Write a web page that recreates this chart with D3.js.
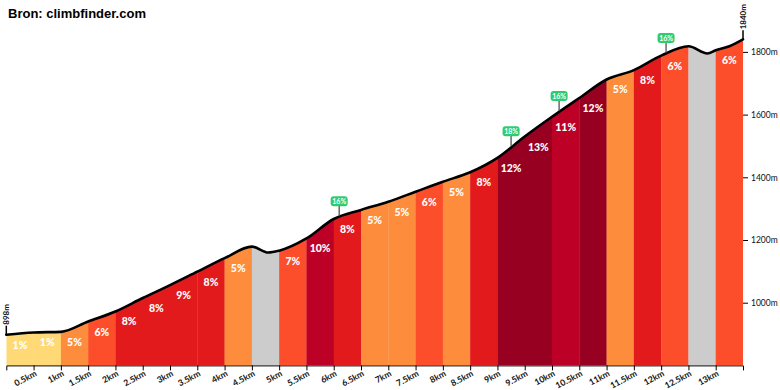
<!DOCTYPE html>
<html><head><meta charset="utf-8">
<script src="https://cdn.jsdelivr.net/npm/d3@7"></script>
<style>
body{margin:0;background:#fff;}
svg{display:block;}
</style></head><body>
<svg id="chart" width="780" height="390"></svg>
<script>
// ---- data ----
const title = "Bron: climbfinder.com";
const profileKm   = [0, 0.5, 1, 1.5, 2, 2.5, 3, 3.5, 4, 4.5, 4.8, 5, 5.5, 6, 6.5, 7, 7.5, 8, 8.5, 9, 9.5, 10, 10.5, 11, 11.5, 12, 12.5, 12.85, 13, 13.25, 13.5];
const profileElev = [898, 905, 907, 940, 972, 1015, 1056, 1099, 1142, 1179, 1160, 1166, 1205, 1267, 1296, 1322, 1354, 1386, 1416, 1462, 1530, 1593, 1653, 1712, 1742, 1788, 1818, 1795, 1805, 1818, 1840];
const segStartKm = [0,0.5,1,1.5,2,2.5,3,3.5,4,4.5,5,5.5,6,6.5,7,7.5,8,8.5,9,9.5,10,10.5,11,11.5,12,12.5,13];
const segGrade   = [1,1,5,6,8,8,9,8,5,null,7,10,8,5,5,6,5,8,12,13,11,12,5,8,6,null,6];
const segLength = 0.5;
const xTicks = [0.5,1,1.5,2,2.5,3,3.5,4,4.5,5,5.5,6,6.5,7,7.5,8,8.5,9,9.5,10,10.5,11,11.5,12,12.5,13];
const yTicks = [1000,1200,1400,1600,1800];
const flagKm = [6.1, 9.25, 10.13, 12.09];
const flagLabels = ["16%","18%","16%","16%"];
const startLabel = "898m";
const endLabel = "1840m";

// ---- scales ----
const x = d3.scaleLinear().domain([0, 13.5]).range([6.3, 743]);
const y = d3.scaleLinear().domain([800, 1900]).range([365.4, 20.55]);
const pts = profileKm.map((k,i)=>[k, profileElev[i]]);
const elevAt = k => {
  const i = d3.bisector(d=>d[0]).right(pts, k);
  if (i <= 0) return pts[0][1];
  if (i >= pts.length) return pts[pts.length-1][1];
  const a = pts[i-1], b = pts[i];
  return a[1] + (b[1]-a[1])*(k-a[0])/(b[0]-a[0]);
};
function gradeColor(g){
  if (g === null) return "#cccccc";
  if (g <= 3) return "#fed976";
  if (g <= 5) return "#fd8d3c";
  if (g <= 7) return "#fc4e2a";
  if (g <= 9) return "#e31a1c";
  if (g <= 11) return "#bd0026";
  return "#970021";
}

const svg = d3.select("#chart");
const curve = d3.curveMonotoneX;

// clip path from area
const area = d3.area().x(d=>x(d[0])).y0(y(800)).y1(d=>y(d[1])).curve(curve);
svg.append("defs").append("clipPath").attr("id","profileClip")
  .append("path").attr("d", area(pts));

// segments
svg.append("g").attr("clip-path","url(#profileClip)")
  .selectAll("rect").data(segStartKm).join("rect")
  .attr("x", d=>x(d))
  .attr("width", d=>x(d+segLength)-x(d)+0.3)
  .attr("y", 0)
  .attr("height", y(800))
  .attr("fill", (d,i)=>gradeColor(segGrade[i]));

// grade labels
svg.append("g").selectAll("text").data(segStartKm).join("text")
  .filter((d,i)=>segGrade[i]!==null)
  .attr("x", d=>x(d+segLength/2))
  .attr("y", d=>y(elevAt(d))+14)
  .attr("text-anchor","middle")
  .attr("font-family","Lato, 'Open Sans', sans-serif")
  .attr("font-weight","900")
  .attr("font-size","10.5px")
  .attr("fill","#fff")
  .text(d=>segGrade[segStartKm.indexOf(d)]+"%");

// profile line
const line = d3.line().x(d=>x(d[0])).y(d=>y(d[1])).curve(curve);
svg.append("path").attr("d", line(pts))
  .attr("fill","none").attr("stroke","#000").attr("stroke-width",2.6)
  .attr("stroke-linejoin","round").attr("stroke-linecap","round");

// x axis
const xAxis = svg.append("g").attr("transform",`translate(0,${y(800)})`)
  .call(d3.axisBottom(x).tickValues(xTicks).tickSize(5).tickSizeOuter(5).tickFormat(d=>d+"km"));
xAxis.select(".domain").attr("stroke","#000");
xAxis.selectAll(".tick line").attr("stroke","#000");
xAxis.selectAll(".tick text")
  .attr("font-family","Lato, 'Open Sans', sans-serif")
  .attr("font-weight","700")
  .attr("font-size","8.6px")
  .attr("fill","#111")
  .attr("text-anchor","end")
  .attr("transform","translate(-1,2) rotate(-28)")
  .attr("dy","0.35em").attr("y",6).attr("x",0);

// y axis (right)
const yAxis = svg.append("g").attr("transform",`translate(${x(13.5)},0)`)
  .call(d3.axisRight(y).tickValues(yTicks).tickSize(5).tickPadding(3).tickFormat(d=>d+"m"));
yAxis.select(".domain").remove();
yAxis.selectAll(".tick line").attr("stroke","#000");
yAxis.selectAll(".tick text")
  .attr("font-family","Lato, 'Open Sans', sans-serif")
  .attr("font-weight","400")
  .attr("font-size","8.5px")
  .attr("fill","#111");

// start / end markers
const ends = [[profileKm[0], profileElev[0], startLabel],[profileKm[profileKm.length-1], profileElev[profileElev.length-1], endLabel]];
const eg = svg.append("g");
eg.selectAll("line").data(ends).join("line")
  .attr("x1",d=>x(d[0])).attr("x2",d=>x(d[0]))
  .attr("y1",d=>y(d[1])).attr("y2",d=>y(d[1])-9)
  .attr("stroke","#000").attr("stroke-width",1.5);
eg.selectAll("text").data(ends).join("text")
  .attr("transform",d=>`translate(${x(d[0])},${y(d[1])-10}) rotate(-90)`)
  .attr("dominant-baseline","central")
  .attr("font-family","Lato, 'Open Sans', sans-serif")
  .attr("font-weight","700")
  .attr("font-size","8px")
  .attr("fill","#111")
  .text(d=>d[2]);

// flags
const fg = svg.append("g").selectAll("g").data(flagKm).join("g")
  .attr("transform",d=>`translate(${x(d)},${y(elevAt(d))})`);
fg.append("line").attr("x1",0).attr("x2",0).attr("y1",-1).attr("y2",-16)
  .attr("stroke","#444").attr("stroke-width",1.2);
fg.append("rect").attr("x",-8.5).attr("y",-21).attr("width",17).attr("height",10).attr("rx",3)
  .attr("fill","#2ecc71");
fg.append("text").attr("x",0).attr("y",-16).attr("dominant-baseline","central")
  .attr("text-anchor","middle")
  .attr("font-family","Lato, 'Open Sans', sans-serif")
  .attr("font-weight","700").attr("font-size","7px").attr("fill","#fff")
  .text((d,i)=>flagLabels[i]);

// title
svg.append("text").attr("x",8).attr("y",18)
  .attr("font-family","'Liberation Sans', Arial, sans-serif")
  .attr("font-weight","700").attr("font-size","13px").attr("fill","#000")
  .text(title);
</script>
</body></html>
